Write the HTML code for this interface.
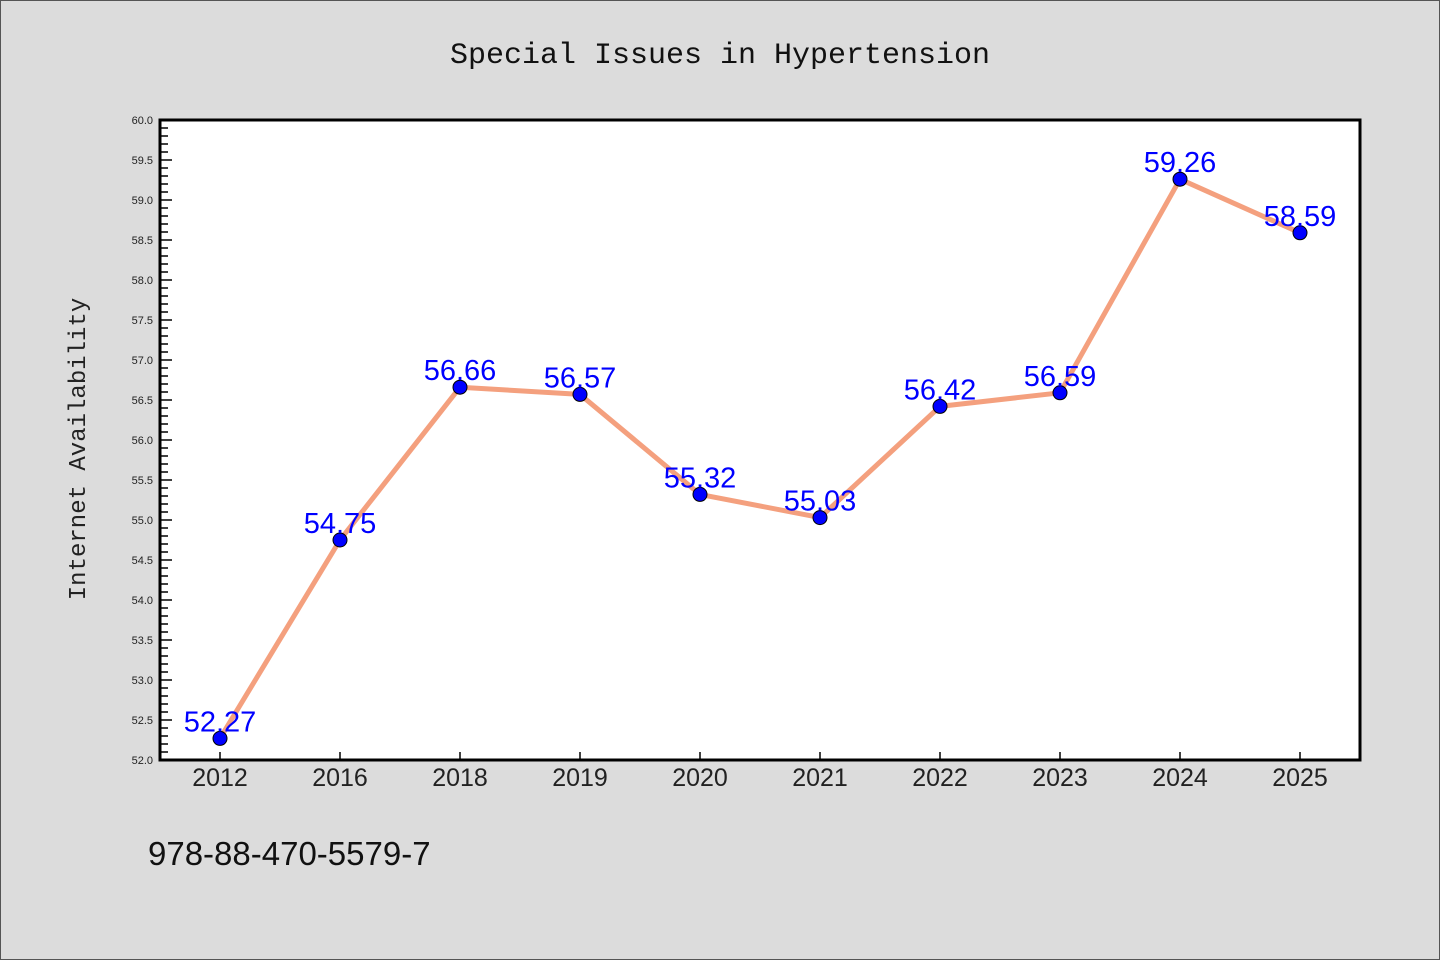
<!DOCTYPE html>
<html><head><meta charset="utf-8"><style>
body{margin:0;background:#dcdcdc;}
svg{display:block;}
text{font-family:"Liberation Sans",sans-serif;}
.mono{font-family:"Liberation Mono",monospace;}
</style></head><body>
<svg width="1440" height="960">
<rect x="0.5" y="0.5" width="1439" height="959" fill="#dcdcdc" stroke="#555"/>
<text class="mono" x="720" y="63" text-anchor="middle" font-size="30" fill="#111">Special Issues in Hypertension</text>
<rect x="160" y="120" width="1200" height="640" fill="#fff"/>
<g id="yticks"></g><g id="xticks"></g>
<rect x="160" y="120" width="1200" height="640" fill="none" stroke="#000" stroke-width="3"/>
<text class="mono" transform="translate(85,449) rotate(-90)" text-anchor="middle" font-size="24" fill="#222">Internet Availability</text>
<g id="series"></g>
<text x="148" y="865" font-size="33" fill="#111">978-88-470-5579-7</text>
</svg>
<script>
const categories=["2012","2016","2018","2019","2020","2021","2022","2023","2024","2025"];
const values=[52.27,54.75,56.66,56.57,55.32,55.03,56.42,56.59,59.26,58.59];
const yMin=52,yMax=60;
const NS="http://www.w3.org/2000/svg";
const L=160,R=1360,T=120,B=760;
const band=(R-L)/categories.length;
const xs=i=>L+band*(i+0.5);
const ys=v=>B-(v-yMin)/(yMax-yMin)*(B-T);
function mk(t,a,p){const e=document.createElementNS(NS,t);for(const k in a)e.setAttribute(k,a[k]);p.appendChild(e);return e;}
const yt=document.getElementById('yticks');
for(let k=0;k<=80;k++){const v=yMin+k*0.1,y=ys(v),maj=k%5===0;
 const ln=mk('line',{x1:L,x2:L+(maj?12:8),y1:y,y2:y,stroke:'#000','stroke-width':1.5},yt);
 
 
 if(maj){const t=mk('text',{x:L-7,y:y+4,'text-anchor':'end','font-size':11,fill:'#222'},yt);t.textContent=v.toFixed(1);
 
 }}
const xt=document.getElementById('xticks');
categories.forEach((c,i)=>{const x=xs(i);
 const ln=mk('line',{x1:x,x2:x,y1:B,y2:B-8,stroke:'#000','stroke-width':1.5},xt);
 
 
 const t=mk('text',{x:x,y:B+26,'text-anchor':'middle','font-size':25,fill:'#222'},xt);t.textContent=c;
 
 });
const s=document.getElementById('series');
const pl=mk('polyline',{points:values.map((v,i)=>xs(i)+','+ys(v)).join(' '),fill:'none',stroke:'#f4a07e','stroke-width':5,'stroke-linejoin':'round'},s);


values.forEach((v,i)=>{
 const c=mk('circle',{cx:xs(i),cy:ys(v),r:7,fill:'#0000ff',stroke:'#000','stroke-width':1},s);
 
 
 const t=mk('text',{x:xs(i),y:ys(v)-7,'text-anchor':'middle','font-size':29,fill:'#0000ff'},s);t.textContent=v.toFixed(2);
 
 });
</script>
</body></html>
